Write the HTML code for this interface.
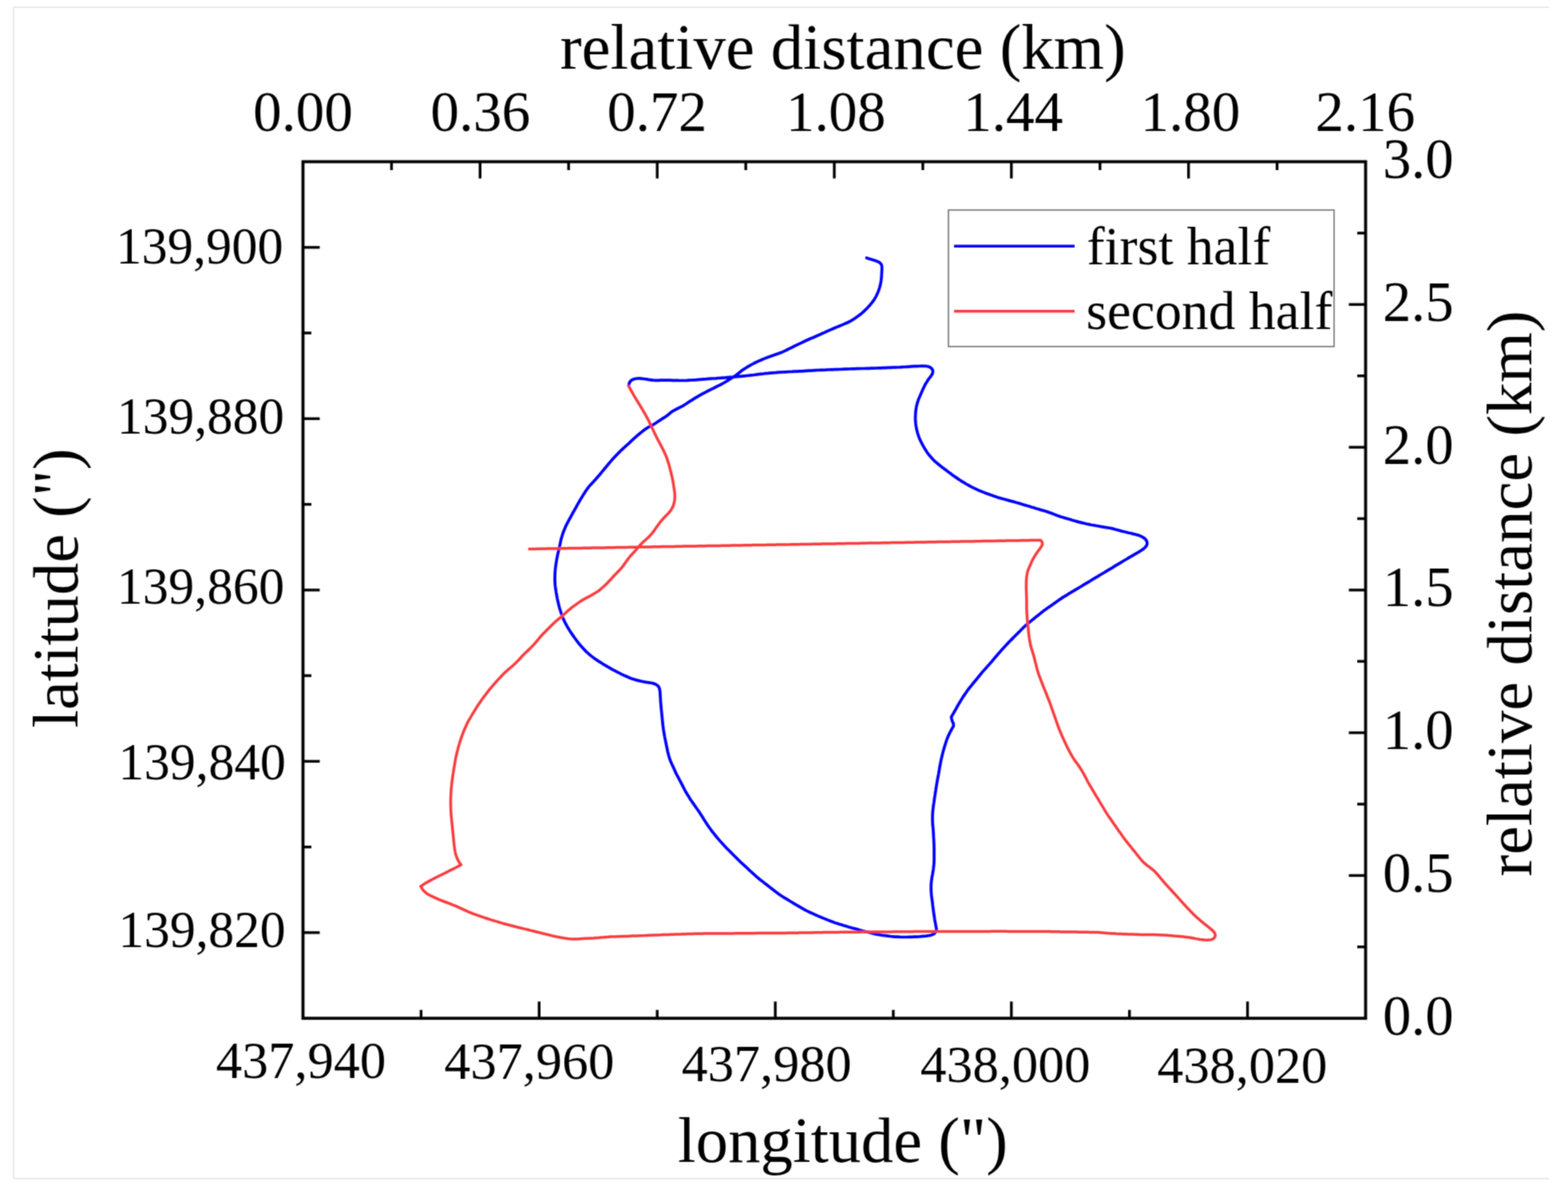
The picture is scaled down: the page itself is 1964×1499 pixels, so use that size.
<!DOCTYPE html>
<html><head><meta charset="utf-8"><title>plot</title>
<style>
html,body{margin:0;padding:0;background:#fff;}
body{width:1964px;height:1499px;overflow:hidden;}
svg{display:block;}
text{font-family:"Liberation Serif","Times New Roman",serif;fill:#000;}
</style></head><body>
<svg width="1964" height="1499" viewBox="0 0 1964 1499">
<defs><filter id="sb" x="0" y="0" width="1964" height="1499" filterUnits="userSpaceOnUse"><feConvolveMatrix order="3" kernelMatrix="1 2 1 2 8 2 1 2 1" divisor="20" edgeMode="duplicate" preserveAlpha="false"/></filter></defs>
<rect x="0" y="0" width="1964" height="1499" fill="#ffffff"/>
<g filter="url(#sb)">
<path d="M17,1476 L17,9 L1940,9 M17,1476 L1940,1476" fill="none" stroke="#e9e9e9" stroke-width="2"/>
<g fill="none" stroke-linejoin="round" stroke-linecap="round">
<polyline points="1085.5,323.0 1088.4,323.9 1091.2,324.8 1094.1,325.7 1096.9,326.6 1099.7,327.7 1102.2,329.1 1103.9,331.1 1104.6,333.6 1104.7,336.5 1104.5,339.5 1104.4,342.5 1104.2,345.5 1104.0,348.5 1103.6,351.5 1103.1,354.4 1102.5,357.3 1101.7,360.2 1100.8,363.1 1099.7,365.9 1098.5,368.6 1097.2,371.3 1095.7,373.9 1094.1,376.4 1092.3,378.8 1090.4,381.2 1088.4,383.4 1086.4,385.6 1084.3,387.7 1082.1,389.8 1079.9,391.9 1077.6,393.8 1075.2,395.6 1072.8,397.3 1070.3,399.0 1067.8,400.6 1065.2,402.1 1062.5,403.5 1059.8,404.7 1057.0,405.9 1054.3,407.1 1051.5,408.2 1048.7,409.4 1045.9,410.5 1043.2,411.7 1040.4,412.9 1037.7,414.1 1034.9,415.3 1032.2,416.6 1029.5,417.8 1026.7,419.1 1024.0,420.3 1021.2,421.5 1018.5,422.7 1015.7,423.8 1013.0,425.0 1010.2,426.3 1007.5,427.5 1004.8,428.8 1002.1,430.1 999.4,431.4 996.7,432.7 994.0,434.0 991.3,435.4 988.6,436.7 985.9,438.0 983.2,439.4 980.5,440.6 977.7,441.7 974.9,442.8 972.1,443.8 969.2,444.8 966.4,445.8 963.6,446.8 960.8,447.8 958.0,448.9 955.2,450.0 952.4,451.2 949.7,452.4 946.9,453.7 944.3,455.0 941.6,456.5 939.0,457.9 936.4,459.4 933.9,461.0 931.3,462.6 928.9,464.3 926.5,466.2 924.2,468.1 921.8,469.9 919.4,471.6 916.8,473.2 914.3,474.8 911.8,476.4 909.2,478.0 906.6,479.5 904.0,481.0 901.3,482.3 898.6,483.7 896.0,485.0 893.3,486.4 890.6,487.7 887.9,489.0 885.2,490.4 882.5,491.8 879.9,493.1 877.3,494.6 874.7,496.1 872.1,497.6 869.5,499.2 866.9,500.8 864.4,502.4 861.9,504.0 859.4,505.7 856.9,507.3 854.3,508.8 851.6,510.2 848.9,511.5 846.3,512.9 843.6,514.3 841.1,515.9 838.8,517.8 836.5,519.7 834.1,521.5 831.6,523.1 829.0,524.7 826.5,526.4 824.0,528.0 821.5,529.7 819.0,531.3 816.4,532.8 813.7,534.2 811.1,535.6 808.6,537.2 806.2,539.0 803.9,540.9 801.5,542.8 799.2,544.7 797.0,546.7 794.7,548.7 792.5,550.7 790.3,552.7 788.1,554.8 785.8,556.8 783.6,558.8 781.4,560.8 779.2,562.9 777.0,565.0 774.9,567.1 772.8,569.2 770.7,571.4 768.7,573.6 766.7,575.8 764.7,578.1 762.8,580.3 760.8,582.7 758.9,585.0 757.0,587.3 755.1,589.6 753.2,591.9 751.3,594.2 749.3,596.5 747.4,598.8 745.4,601.0 743.4,603.3 741.3,605.4 739.3,607.6 737.3,609.9 735.5,612.3 733.8,614.8 732.2,617.3 730.6,619.8 729.0,622.4 727.4,624.9 725.9,627.5 724.4,630.1 722.9,632.7 721.5,635.4 720.0,638.0 718.5,640.6 717.1,643.2 715.6,645.9 714.2,648.5 712.7,651.1 711.3,653.8 709.9,656.4 708.6,659.1 707.4,661.9 706.3,664.6 705.2,667.5 704.3,670.3 703.4,673.2 702.6,676.1 702.0,679.0 701.4,681.9 700.7,684.9 700.1,687.8 699.4,690.7 698.7,693.6 698.1,696.6 697.5,699.5 697.0,702.5 696.5,705.4 696.1,708.4 695.7,711.4 695.4,714.4 695.2,717.4 695.1,720.4 695.0,723.4 695.0,726.4 695.1,729.4 695.3,732.4 695.6,735.3 696.1,738.3 696.5,741.3 697.0,744.2 697.6,747.2 698.1,750.1 698.8,753.1 699.5,756.0 700.2,758.9 701.0,761.8 701.9,764.7 702.8,767.5 703.8,770.3 704.8,773.2 706.0,775.9 707.3,778.6 708.7,781.3 710.1,783.9 711.6,786.5 713.2,789.1 714.8,791.6 716.5,794.1 718.2,796.6 719.9,799.0 721.7,801.4 723.5,803.8 725.3,806.2 727.3,808.5 729.3,810.7 731.3,812.9 733.4,815.1 735.5,817.2 737.8,819.2 740.1,821.1 742.4,822.9 744.8,824.7 747.3,826.4 749.8,828.1 752.4,829.7 754.9,831.3 757.5,832.8 760.1,834.3 762.7,835.8 765.3,837.3 767.9,838.8 770.5,840.2 773.2,841.6 775.9,842.9 778.6,844.3 781.3,845.6 784.0,846.8 786.8,848.0 789.5,849.2 792.4,850.2 795.2,851.1 798.1,851.9 801.0,852.6 803.9,853.3 806.9,853.9 809.8,854.4 812.8,854.8 815.8,855.3 818.7,855.9 821.4,856.9 823.7,858.5 825.4,860.7 826.3,863.4 826.7,866.3 826.9,869.3 827.1,872.3 827.3,875.3 827.4,878.3 827.7,881.3 827.9,884.3 828.2,887.3 828.5,890.3 828.8,893.2 829.1,896.2 829.4,899.2 829.7,902.2 830.0,905.2 830.3,908.2 830.7,911.2 831.1,914.1 831.6,917.1 832.1,920.1 832.6,923.0 833.2,926.0 833.8,928.9 834.4,931.8 835.0,934.8 835.6,937.7 836.2,940.7 836.9,943.6 837.7,946.5 838.5,949.4 839.5,952.2 840.7,954.9 841.9,957.7 843.2,960.4 844.4,963.1 845.6,965.9 846.9,968.6 848.3,971.3 849.7,973.9 851.1,976.6 852.5,979.2 853.9,981.9 855.3,984.5 856.6,987.2 858.0,989.9 859.5,992.5 861.0,995.1 862.6,997.6 864.2,1000.2 865.9,1002.7 867.6,1005.1 869.3,1007.6 871.0,1010.0 872.7,1012.5 874.5,1015.0 876.2,1017.4 877.8,1019.9 879.5,1022.5 881.0,1025.0 882.6,1027.6 884.2,1030.1 885.8,1032.6 887.6,1035.1 889.3,1037.5 891.1,1040.0 892.9,1042.3 894.8,1044.7 896.6,1047.0 898.5,1049.3 900.5,1051.6 902.5,1053.9 904.5,1056.1 906.5,1058.3 908.6,1060.5 910.7,1062.7 912.8,1064.8 914.9,1066.9 917.0,1069.0 919.2,1071.2 921.3,1073.3 923.4,1075.4 925.5,1077.5 927.7,1079.6 929.9,1081.7 932.1,1083.7 934.3,1085.7 936.5,1087.7 938.7,1089.8 941.0,1091.8 943.2,1093.8 945.4,1095.8 947.6,1097.8 949.9,1099.8 952.2,1101.7 954.6,1103.5 957.0,1105.4 959.4,1107.2 961.7,1109.0 964.1,1110.9 966.5,1112.7 968.8,1114.6 971.2,1116.4 973.6,1118.3 976.0,1120.0 978.5,1121.7 981.0,1123.3 983.6,1124.8 986.2,1126.4 988.7,1128.0 991.3,1129.5 993.9,1131.1 996.4,1132.6 999.0,1134.1 1001.6,1135.7 1004.2,1137.2 1006.8,1138.7 1009.4,1140.1 1012.1,1141.4 1014.9,1142.7 1017.6,1143.9 1020.3,1145.2 1023.0,1146.4 1025.8,1147.6 1028.6,1148.8 1031.3,1149.9 1034.1,1151.0 1036.9,1152.1 1039.7,1153.2 1042.5,1154.3 1045.3,1155.4 1048.2,1156.3 1051.0,1157.2 1053.9,1158.1 1056.8,1159.0 1059.7,1159.8 1062.5,1160.7 1065.4,1161.5 1068.3,1162.4 1071.2,1163.1 1074.1,1163.9 1077.0,1164.7 1079.9,1165.5 1082.8,1166.2 1085.7,1167.0 1088.6,1167.7 1091.5,1168.5 1094.4,1169.2 1097.4,1169.9 1100.3,1170.4 1103.3,1170.9 1106.2,1171.3 1109.2,1171.7 1112.2,1172.1 1115.2,1172.5 1118.2,1172.8 1121.1,1173.1 1124.1,1173.2 1127.1,1173.4 1130.1,1173.5 1133.1,1173.5 1136.1,1173.5 1139.1,1173.4 1142.1,1173.3 1145.1,1173.2 1148.1,1173.1 1151.1,1173.0 1154.1,1172.7 1157.1,1172.4 1160.1,1172.1 1163.1,1171.7 1166.0,1171.1 1168.7,1170.1 1170.9,1168.6 1172.3,1166.4 1173.0,1163.7 1172.4,1160.7 1171.9,1157.8 1171.4,1154.8 1170.8,1151.8 1170.4,1148.9 1169.9,1145.9 1169.5,1142.9 1169.1,1139.9 1168.7,1136.9 1168.3,1133.9 1168.0,1130.9 1167.6,1128.0 1167.2,1125.0 1166.8,1122.0 1166.5,1119.0 1166.3,1116.0 1166.2,1113.0 1166.2,1110.0 1166.3,1107.0 1166.6,1104.0 1167.0,1101.0 1167.4,1098.0 1168.0,1095.1 1168.5,1092.1 1169.0,1089.1 1169.4,1086.1 1169.7,1083.1 1169.9,1080.1 1170.0,1077.1 1170.0,1074.1 1170.0,1071.1 1170.0,1068.1 1170.0,1065.1 1170.0,1062.1 1169.9,1059.0 1169.8,1056.0 1169.7,1053.0 1169.5,1050.0 1169.3,1047.0 1169.2,1044.0 1169.0,1041.0 1168.8,1038.0 1168.5,1035.0 1168.2,1032.0 1168.1,1029.0 1168.0,1026.0 1168.0,1023.0 1168.1,1020.0 1168.3,1016.9 1168.6,1013.9 1168.9,1011.0 1169.3,1008.0 1169.8,1005.0 1170.2,1002.0 1170.6,999.0 1171.1,996.0 1171.5,993.1 1172.0,990.1 1172.4,987.1 1172.9,984.1 1173.4,981.2 1173.9,978.2 1174.5,975.2 1175.0,972.3 1175.6,969.3 1176.1,966.3 1176.6,963.4 1177.1,960.4 1177.6,957.4 1178.2,954.5 1178.8,951.5 1179.5,948.6 1180.2,945.7 1180.9,942.7 1181.7,939.8 1182.5,936.9 1183.4,934.0 1184.3,931.2 1185.2,928.3 1186.2,925.5 1187.3,922.7 1188.6,919.9 1189.9,917.2 1191.3,914.6 1192.8,911.9 1194.3,909.3 1194.3,906.6 1193.1,903.8 1192.1,901.0 1191.5,898.0 1193.0,895.4 1194.5,892.8 1196.0,890.2 1197.5,887.6 1198.9,885.0 1200.4,882.3 1202.0,879.8 1203.5,877.2 1205.1,874.6 1206.7,872.1 1208.4,869.6 1210.1,867.2 1211.8,864.7 1213.6,862.3 1215.5,860.0 1217.4,857.6 1219.3,855.3 1221.2,853.0 1223.1,850.7 1225.0,848.3 1226.9,846.0 1228.8,843.7 1230.7,841.4 1232.7,839.1 1234.7,836.9 1236.7,834.6 1238.7,832.4 1240.7,830.1 1242.7,827.9 1244.6,825.6 1246.5,823.3 1248.5,821.0 1250.4,818.7 1252.4,816.5 1254.4,814.2 1256.4,812.0 1258.5,809.8 1260.5,807.6 1262.5,805.4 1264.6,803.2 1266.7,801.1 1268.9,798.9 1271.0,796.8 1273.1,794.7 1275.2,792.6 1277.4,790.5 1279.5,788.3 1281.6,786.2 1283.8,784.2 1286.0,782.1 1288.3,780.2 1290.6,778.3 1293.0,776.4 1295.3,774.5 1297.6,772.6 1300.0,770.8 1302.3,768.9 1304.7,767.0 1307.0,765.1 1309.4,763.4 1311.9,761.6 1314.3,759.9 1316.8,758.2 1319.3,756.5 1321.7,754.7 1324.2,753.0 1326.6,751.3 1329.1,749.6 1331.6,747.9 1334.2,746.3 1336.7,744.8 1339.3,743.2 1341.9,741.7 1344.5,740.1 1347.0,738.6 1349.6,737.1 1352.2,735.5 1354.8,734.0 1357.3,732.4 1359.9,730.9 1362.5,729.3 1365.1,727.8 1367.6,726.2 1370.2,724.7 1372.8,723.1 1375.4,721.6 1377.9,720.0 1380.5,718.5 1383.1,717.0 1385.7,715.4 1388.2,713.9 1390.8,712.3 1393.4,710.8 1396.0,709.2 1398.5,707.7 1401.1,706.1 1403.7,704.6 1406.3,703.0 1408.8,701.5 1411.4,700.0 1414.0,698.4 1416.6,696.9 1419.2,695.3 1421.8,693.8 1424.4,692.3 1427.0,690.9 1429.5,689.3 1432.0,687.6 1434.2,685.7 1436.0,683.5 1436.9,680.9 1436.6,678.3 1435.3,675.9 1433.2,673.9 1430.7,672.4 1428.1,671.1 1425.2,670.1 1422.3,669.3 1419.4,668.6 1416.5,667.8 1413.6,667.2 1410.7,666.5 1407.7,665.8 1404.8,665.1 1401.9,664.3 1399.0,663.5 1396.2,662.7 1393.3,661.9 1390.3,661.3 1387.4,660.8 1384.4,660.4 1381.4,659.9 1378.5,659.4 1375.5,658.8 1372.6,658.3 1369.6,657.7 1366.7,657.2 1363.7,656.6 1360.8,656.0 1357.8,655.3 1354.9,654.6 1352.0,653.9 1349.1,653.1 1346.2,652.3 1343.3,651.5 1340.5,650.6 1337.6,649.7 1334.7,648.9 1331.8,648.0 1329.0,647.2 1326.1,646.2 1323.3,645.2 1320.5,644.1 1317.7,643.0 1314.9,642.0 1312.0,641.0 1309.2,640.1 1306.3,639.2 1303.4,638.4 1300.5,637.5 1297.7,636.7 1294.8,635.8 1291.9,635.0 1289.0,634.1 1286.2,633.2 1283.3,632.4 1280.4,631.5 1277.5,630.6 1274.6,629.8 1271.8,629.0 1268.9,628.1 1266.0,627.4 1263.1,626.6 1260.2,625.8 1257.3,625.0 1254.4,624.2 1251.5,623.4 1248.6,622.5 1245.8,621.6 1242.9,620.6 1240.1,619.6 1237.3,618.6 1234.4,617.5 1231.7,616.4 1228.9,615.3 1226.1,614.2 1223.4,612.9 1220.7,611.6 1218.0,610.3 1215.3,608.9 1212.7,607.5 1210.1,606.0 1207.5,604.4 1204.9,602.9 1202.4,601.3 1199.9,599.6 1197.4,597.9 1195.0,596.2 1192.5,594.4 1190.1,592.6 1187.7,590.9 1185.3,589.0 1182.9,587.2 1180.5,585.4 1178.1,583.6 1175.8,581.7 1173.5,579.8 1171.2,577.8 1169.0,575.8 1167.0,573.6 1165.0,571.3 1163.1,569.0 1161.3,566.6 1159.7,564.1 1158.1,561.5 1156.6,558.9 1155.2,556.3 1153.8,553.6 1152.5,550.9 1151.3,548.2 1150.3,545.4 1149.4,542.5 1148.6,539.6 1147.9,536.7 1147.4,533.8 1147.0,530.8 1146.7,527.8 1146.5,524.8 1146.6,521.8 1146.7,518.8 1146.9,515.8 1147.3,512.8 1147.7,509.9 1148.4,507.0 1149.2,504.1 1150.1,501.2 1151.2,498.4 1152.4,495.7 1153.6,492.9 1154.8,490.2 1156.0,487.4 1157.3,484.7 1158.6,482.0 1160.1,479.4 1161.7,476.9 1163.4,474.4 1165.2,472.1 1167.0,469.7 1168.2,467.1 1168.5,464.5 1167.5,462.1 1165.6,460.3 1163.0,459.1 1160.2,458.5 1157.2,458.4 1154.2,458.4 1151.2,458.5 1148.2,458.6 1145.2,458.7 1142.2,458.9 1139.2,459.1 1136.2,459.3 1133.2,459.5 1130.2,459.7 1127.2,459.9 1124.2,460.0 1121.2,460.1 1118.2,460.2 1115.2,460.3 1112.2,460.4 1109.2,460.6 1106.2,460.7 1103.2,460.8 1100.2,460.9 1097.2,461.0 1094.2,461.1 1091.2,461.2 1088.2,461.3 1085.2,461.4 1082.2,461.5 1079.2,461.5 1076.2,461.6 1073.2,461.7 1070.2,461.8 1067.2,461.9 1064.2,462.0 1061.2,462.1 1058.2,462.2 1055.2,462.3 1052.2,462.5 1049.2,462.6 1046.2,462.7 1043.2,462.8 1040.2,462.9 1037.2,463.0 1034.2,463.2 1031.2,463.3 1028.2,463.4 1025.2,463.5 1022.2,463.7 1019.2,463.9 1016.2,464.1 1013.2,464.2 1010.2,464.4 1007.2,464.6 1004.2,464.8 1001.2,464.9 998.2,465.1 995.2,465.2 992.2,465.4 989.2,465.5 986.2,465.7 983.2,465.8 980.2,466.0 977.2,466.2 974.2,466.4 971.2,466.7 968.2,466.9 965.2,467.1 962.2,467.4 959.2,467.6 956.2,468.0 953.3,468.3 950.3,468.7 947.3,469.1 944.3,469.5 941.3,469.8 938.4,470.2 935.4,470.5 932.4,470.8 929.4,471.1 926.4,471.4 923.4,471.7 920.4,471.9 917.4,472.2 914.4,472.4 911.4,472.6 908.5,472.9 905.5,473.1 902.5,473.3 899.5,473.5 896.5,473.8 893.5,474.0 890.5,474.2 887.5,474.4 884.5,474.7 881.5,474.9 878.5,475.1 875.5,475.3 872.5,475.6 869.5,475.8 866.5,476.0 863.5,476.2 860.5,476.4 857.5,476.5 854.5,476.5 851.5,476.5 848.5,476.4 845.5,476.4 842.5,476.3 839.5,476.2 836.5,476.2 833.5,476.1 830.5,476.1 827.5,476.1 824.5,476.3 821.5,476.3 818.5,476.2 815.6,475.8 812.6,475.4 809.6,474.9 806.6,474.5 803.7,474.1 800.7,473.9 797.7,474.0 794.8,474.5 792.1,475.5 789.9,477.1 788.3,479.4 787.6,482.1 787.5,483.5" stroke="#0000ff" stroke-width="3.7"/>
<polyline points="787.5,483.5 788.9,486.1 790.4,488.8 791.9,491.4 793.3,494.0 794.8,496.6 796.4,499.2 797.9,501.8 799.5,504.3 801.1,506.9 802.6,509.5 804.2,512.0 805.7,514.6 807.2,517.2 808.7,519.8 810.2,522.5 811.6,525.1 812.9,527.8 814.2,530.5 815.6,533.2 816.9,535.9 818.1,538.6 819.4,541.4 820.7,544.1 822.0,546.8 823.4,549.5 824.8,552.1 826.2,554.8 827.6,557.4 829.0,560.1 830.4,562.8 831.7,565.4 833.0,568.2 834.2,570.9 835.2,573.7 836.2,576.6 837.1,579.4 838.0,582.3 838.8,585.2 839.5,588.1 840.3,591.0 841.0,594.0 841.7,596.9 842.3,599.8 842.9,602.8 843.4,605.7 843.8,608.7 844.3,611.7 844.7,614.6 845.1,617.6 845.3,620.6 845.2,623.6 845.0,626.6 844.4,629.5 843.6,632.4 842.5,635.1 841.1,637.7 839.4,640.2 837.4,642.5 835.4,644.6 833.3,646.8 831.2,649.0 829.2,651.2 827.3,653.5 825.4,655.9 823.7,658.3 821.9,660.8 820.2,663.2 818.5,665.7 816.6,668.1 814.6,670.3 812.5,672.4 810.4,674.5 808.2,676.5 805.9,678.5 803.7,680.6 801.7,682.8 799.7,685.0 797.8,687.3 795.8,689.6 793.8,691.8 791.7,694.0 789.7,696.2 787.8,698.5 786.0,700.9 784.2,703.4 782.5,705.8 780.8,708.3 778.9,710.7 777.0,712.9 774.9,715.1 772.8,717.2 770.7,719.4 768.6,721.5 766.6,723.8 764.6,726.0 762.5,728.2 760.4,730.4 758.3,732.4 756.1,734.5 753.8,736.5 751.6,738.5 749.2,740.3 746.7,741.9 744.1,743.5 741.5,745.0 738.9,746.5 736.3,747.9 733.6,749.2 730.9,750.7 728.4,752.2 725.9,753.9 723.4,755.6 721.0,757.4 718.5,759.1 716.1,760.9 713.8,762.8 711.5,764.7 709.3,766.7 707.1,768.8 704.9,770.9 702.6,772.8 700.3,774.7 697.9,776.6 695.7,778.5 693.5,780.6 691.3,782.7 689.2,784.8 687.1,786.9 684.9,789.1 682.8,791.2 680.7,793.3 678.6,795.5 676.6,797.7 674.7,800.0 672.8,802.4 670.9,804.7 668.9,806.9 666.9,809.1 664.7,811.2 662.6,813.4 660.4,815.4 658.2,817.5 656.1,819.6 654.0,821.7 652.0,824.0 650.0,826.2 647.9,828.3 645.7,830.4 643.5,832.5 641.3,834.5 639.0,836.5 636.8,838.4 634.5,840.4 632.2,842.4 630.1,844.5 628.0,846.7 626.0,848.9 623.9,851.1 621.9,853.3 619.9,855.6 617.9,857.8 616.0,860.1 614.0,862.4 612.2,864.7 610.3,867.1 608.5,869.5 606.7,871.9 604.9,874.3 603.1,876.7 601.4,879.2 599.7,881.7 598.0,884.2 596.4,886.7 594.8,889.3 593.3,891.8 591.7,894.4 590.2,897.0 588.7,899.6 587.1,902.2 585.7,904.8 584.4,907.5 583.2,910.3 581.9,913.0 580.8,915.8 579.7,918.6 578.7,921.4 577.7,924.2 576.7,927.1 575.8,930.0 575.0,932.8 574.1,935.7 573.4,938.6 572.6,941.5 571.9,944.5 571.2,947.4 570.6,950.3 570.1,953.3 569.6,956.3 569.1,959.2 568.6,962.2 568.1,965.2 567.7,968.1 567.2,971.1 566.8,974.1 566.4,977.0 566.0,980.0 565.7,983.0 565.4,986.0 565.1,989.0 564.9,992.0 564.8,995.0 564.6,998.0 564.5,1001.0 564.5,1004.0 564.5,1007.0 564.6,1010.0 564.7,1013.0 564.8,1016.0 565.0,1019.0 565.2,1022.0 565.5,1025.0 565.8,1028.0 566.1,1031.0 566.4,1034.0 566.7,1037.0 567.0,1040.0 567.3,1043.0 567.6,1046.0 567.9,1048.9 568.2,1051.9 568.5,1054.9 568.8,1057.9 569.2,1060.9 569.6,1063.9 570.1,1066.8 570.8,1069.7 571.7,1072.6 572.8,1075.4 574.2,1078.1 575.7,1080.6 577.5,1083.0 574.8,1084.4 572.2,1085.8 569.5,1087.2 566.8,1088.6 564.1,1089.9 561.4,1091.3 558.7,1092.6 556.0,1094.0 553.3,1095.3 550.6,1096.7 547.9,1098.0 545.2,1099.4 542.5,1100.8 539.9,1102.1 537.2,1103.6 534.6,1105.1 532.0,1106.6 529.5,1108.3 527.0,1110.0 528.5,1112.6 530.2,1115.0 532.3,1117.1 534.6,1119.0 537.1,1120.5 539.8,1121.9 542.5,1123.2 545.2,1124.4 548.0,1125.6 550.8,1126.8 553.5,1127.9 556.3,1129.0 559.1,1130.0 561.9,1131.1 564.7,1132.2 567.5,1133.3 570.3,1134.4 573.1,1135.6 575.8,1136.9 578.5,1138.1 581.3,1139.3 584.0,1140.6 586.7,1141.8 589.5,1143.0 592.3,1144.1 595.1,1145.1 597.9,1146.1 600.8,1147.1 603.6,1148.1 606.4,1149.1 609.3,1150.0 612.1,1151.0 615.0,1151.9 617.9,1152.7 620.8,1153.6 623.6,1154.4 626.5,1155.3 629.4,1156.2 632.3,1157.0 635.2,1157.7 638.1,1158.5 641.0,1159.2 643.9,1160.0 646.8,1160.7 649.7,1161.5 652.6,1162.2 655.5,1162.9 658.5,1163.6 661.4,1164.3 664.3,1165.1 667.2,1165.8 670.1,1166.5 673.0,1167.2 675.9,1167.9 678.9,1168.7 681.8,1169.4 684.7,1170.1 687.6,1170.8 690.5,1171.6 693.4,1172.2 696.4,1172.9 699.3,1173.5 702.2,1174.1 705.2,1174.6 708.1,1175.1 711.1,1175.5 714.1,1175.8 717.1,1176.0 720.1,1176.0 723.1,1175.9 726.1,1175.7 729.1,1175.5 732.1,1175.3 735.1,1175.2 738.1,1175.0 741.1,1174.9 744.1,1174.7 747.0,1174.4 750.0,1174.2 753.0,1173.9 756.0,1173.7 759.0,1173.4 762.0,1173.3 765.0,1173.1 768.0,1173.0 771.0,1172.9 774.0,1172.8 777.0,1172.7 780.0,1172.6 783.0,1172.5 786.0,1172.4 789.0,1172.2 792.0,1172.1 795.0,1172.0 798.0,1171.9 801.0,1171.8 804.0,1171.7 807.0,1171.6 810.0,1171.4 813.0,1171.3 816.0,1171.2 819.0,1171.1 822.0,1171.0 825.0,1170.9 828.0,1170.7 831.0,1170.6 834.0,1170.5 837.0,1170.4 840.0,1170.3 843.0,1170.2 846.0,1170.1 849.0,1170.0 852.0,1169.9 855.0,1169.8 858.0,1169.7 861.0,1169.6 864.0,1169.5 867.0,1169.4 870.0,1169.3 873.0,1169.2 876.0,1169.2 879.0,1169.2 882.0,1169.1 885.0,1169.1 888.0,1169.1 891.0,1169.1 894.0,1169.0 897.0,1169.0 900.0,1169.0 903.0,1169.0 906.0,1169.0 909.0,1168.9 912.0,1168.9 915.0,1168.9 918.0,1168.9 921.0,1168.8 924.0,1168.8 927.0,1168.8 930.0,1168.8 933.0,1168.8 936.0,1168.7 939.0,1168.7 942.0,1168.7 945.0,1168.7 948.0,1168.6 951.0,1168.6 954.0,1168.6 957.0,1168.6 960.0,1168.5 963.0,1168.5 966.0,1168.5 969.1,1168.5 972.1,1168.5 975.1,1168.4 978.1,1168.4 981.1,1168.4 984.1,1168.4 987.1,1168.3 990.1,1168.3 993.1,1168.3 996.1,1168.2 999.1,1168.2 1002.1,1168.1 1005.1,1168.1 1008.1,1168.0 1011.1,1168.0 1014.1,1167.9 1017.1,1167.9 1020.1,1167.8 1023.1,1167.8 1026.1,1167.7 1029.1,1167.7 1032.1,1167.6 1035.1,1167.6 1038.1,1167.5 1041.1,1167.5 1044.1,1167.4 1047.1,1167.4 1050.1,1167.4 1053.1,1167.3 1056.1,1167.3 1059.1,1167.3 1062.1,1167.3 1065.1,1167.3 1068.1,1167.2 1071.1,1167.2 1074.1,1167.2 1077.1,1167.2 1080.1,1167.1 1083.1,1167.1 1086.1,1167.1 1089.1,1167.1 1092.1,1167.1 1095.1,1167.0 1098.1,1167.0 1101.1,1167.0 1104.1,1167.0 1107.1,1166.9 1110.1,1166.9 1113.1,1166.9 1116.1,1166.9 1119.1,1166.8 1122.1,1166.8 1125.1,1166.8 1128.1,1166.8 1131.1,1166.8 1134.1,1166.7 1137.1,1166.7 1140.1,1166.7 1143.1,1166.7 1146.1,1166.6 1149.1,1166.6 1152.1,1166.6 1155.1,1166.6 1158.1,1166.6 1161.1,1166.6 1164.2,1166.6 1167.2,1166.6 1170.2,1166.6 1173.2,1166.6 1176.2,1166.6 1179.2,1166.6 1182.2,1166.6 1185.2,1166.6 1188.2,1166.6 1191.2,1166.6 1194.2,1166.6 1197.2,1166.6 1200.2,1166.6 1203.2,1166.5 1206.2,1166.5 1209.2,1166.5 1212.2,1166.5 1215.2,1166.5 1218.2,1166.5 1221.2,1166.4 1224.2,1166.4 1227.2,1166.4 1230.2,1166.4 1233.2,1166.4 1236.2,1166.4 1239.2,1166.4 1242.2,1166.3 1245.2,1166.3 1248.2,1166.3 1251.2,1166.3 1254.2,1166.3 1257.2,1166.3 1260.2,1166.3 1263.2,1166.4 1266.2,1166.4 1269.2,1166.4 1272.2,1166.4 1275.2,1166.4 1278.2,1166.4 1281.2,1166.4 1284.2,1166.5 1287.2,1166.5 1290.2,1166.5 1293.2,1166.5 1296.2,1166.5 1299.2,1166.5 1302.2,1166.6 1305.2,1166.6 1308.2,1166.6 1311.2,1166.6 1314.2,1166.6 1317.2,1166.7 1320.2,1166.7 1323.2,1166.8 1326.2,1166.8 1329.2,1166.9 1332.2,1166.9 1335.2,1166.9 1338.2,1167.0 1341.2,1167.0 1344.2,1167.1 1347.3,1167.1 1350.3,1167.2 1353.3,1167.2 1356.3,1167.2 1359.3,1167.3 1362.3,1167.3 1365.3,1167.4 1368.3,1167.4 1371.3,1167.5 1374.3,1167.6 1377.3,1167.8 1380.2,1168.0 1383.2,1168.2 1386.2,1168.5 1389.2,1168.7 1392.2,1168.9 1395.2,1169.1 1398.2,1169.3 1401.2,1169.4 1404.2,1169.5 1407.2,1169.7 1410.2,1169.8 1413.2,1169.9 1416.2,1170.0 1419.2,1170.1 1422.2,1170.2 1425.2,1170.3 1428.2,1170.4 1431.2,1170.5 1434.2,1170.5 1437.2,1170.6 1440.2,1170.6 1443.2,1170.6 1446.2,1170.6 1449.2,1170.7 1452.2,1170.7 1455.2,1170.9 1458.2,1171.1 1461.2,1171.3 1464.2,1171.5 1467.2,1171.7 1470.2,1172.0 1473.2,1172.2 1476.2,1172.4 1479.2,1172.7 1482.1,1173.0 1485.1,1173.4 1488.1,1173.8 1491.1,1174.3 1494.0,1174.8 1497.0,1175.4 1499.9,1175.9 1502.9,1176.4 1505.8,1176.7 1508.8,1177.1 1511.8,1177.2 1514.8,1177.1 1517.6,1176.6 1520.1,1175.4 1521.8,1173.4 1522.2,1170.9 1521.4,1168.4 1519.7,1166.1 1517.5,1164.1 1515.2,1162.2 1512.9,1160.3 1510.5,1158.4 1508.2,1156.6 1505.8,1154.7 1503.5,1152.8 1501.3,1150.8 1499.0,1148.8 1496.8,1146.7 1494.7,1144.7 1492.6,1142.5 1490.5,1140.4 1488.4,1138.2 1486.3,1136.0 1484.3,1133.8 1482.3,1131.6 1480.3,1129.3 1478.3,1127.1 1476.3,1124.9 1474.3,1122.7 1472.2,1120.4 1470.2,1118.2 1468.2,1116.0 1466.2,1113.8 1464.1,1111.6 1462.1,1109.4 1460.1,1107.1 1458.1,1104.9 1456.2,1102.6 1454.2,1100.3 1452.3,1098.0 1450.3,1095.7 1448.4,1093.5 1446.3,1091.3 1444.1,1089.3 1441.8,1087.4 1439.4,1085.6 1437.0,1083.8 1434.6,1081.9 1432.4,1080.0 1430.3,1077.8 1428.4,1075.5 1426.5,1073.2 1424.7,1070.8 1422.8,1068.5 1420.9,1066.1 1419.0,1063.8 1417.2,1061.5 1415.3,1059.1 1413.4,1056.8 1411.5,1054.4 1409.7,1052.1 1407.9,1049.7 1406.1,1047.3 1404.4,1044.8 1402.6,1042.3 1400.9,1039.9 1399.2,1037.4 1397.5,1035.0 1395.8,1032.5 1394.0,1030.1 1392.3,1027.6 1390.6,1025.1 1388.9,1022.7 1387.2,1020.2 1385.6,1017.6 1384.0,1015.1 1382.5,1012.5 1381.0,1009.9 1379.4,1007.4 1377.9,1004.8 1376.3,1002.2 1374.8,999.6 1373.2,997.1 1371.7,994.5 1370.1,991.9 1368.6,989.3 1367.1,986.8 1365.5,984.2 1364.0,981.6 1362.5,979.0 1361.2,976.3 1359.8,973.6 1358.4,971.0 1357.0,968.4 1355.5,965.8 1353.9,963.2 1352.3,960.7 1350.6,958.2 1348.8,955.8 1347.0,953.4 1345.3,950.9 1343.7,948.4 1342.2,945.8 1340.7,943.2 1339.3,940.5 1337.9,937.9 1336.6,935.2 1335.3,932.5 1334.0,929.8 1332.7,927.1 1331.5,924.3 1330.2,921.6 1329.1,918.8 1327.9,916.0 1326.8,913.3 1325.7,910.5 1324.7,907.6 1323.7,904.8 1322.7,902.0 1321.7,899.1 1320.7,896.3 1319.7,893.5 1318.7,890.7 1317.7,887.8 1316.7,885.0 1315.7,882.2 1314.7,879.3 1313.6,876.5 1312.5,873.8 1311.4,871.0 1310.3,868.2 1309.2,865.4 1308.0,862.6 1306.9,859.8 1305.8,857.0 1304.7,854.2 1303.6,851.4 1302.6,848.6 1301.5,845.8 1300.6,843.0 1299.6,840.1 1298.8,837.2 1298.1,834.3 1297.4,831.4 1296.6,828.5 1295.9,825.6 1295.2,822.7 1294.4,819.8 1293.5,816.9 1292.6,814.1 1291.7,811.2 1290.9,808.3 1290.3,805.4 1289.8,802.4 1289.3,799.5 1288.9,796.5 1288.5,793.5 1288.2,790.5 1287.9,787.5 1287.6,784.6 1287.3,781.6 1287.0,778.6 1286.7,775.6 1286.5,772.6 1286.3,769.6 1286.1,766.6 1286.0,763.6 1285.9,760.6 1285.9,757.6 1285.9,754.6 1285.9,751.6 1285.8,748.6 1285.7,745.6 1285.6,742.6 1285.5,739.6 1285.4,736.6 1285.4,733.6 1285.4,730.6 1285.5,727.6 1285.7,724.6 1286.0,721.6 1286.5,718.7 1287.1,715.8 1288.1,713.0 1289.3,710.2 1290.5,707.5 1291.7,704.7 1292.9,702.0 1294.3,699.3 1295.8,696.8 1297.4,694.2 1299.1,691.7 1300.9,689.3 1302.6,686.9 1304.3,684.4 1305.7,681.8 1305.4,679.1 1303.5,676.4 1300.5,676.5 1297.5,676.5 1294.5,676.6 1291.5,676.6 1288.5,676.7 1285.5,676.7 1282.5,676.8 1279.5,676.8 1276.5,676.9 1273.5,676.9 1270.5,677.0 1267.5,677.0 1264.5,677.1 1261.5,677.1 1258.5,677.2 1255.5,677.2 1252.5,677.3 1249.5,677.3 1246.5,677.4 1243.5,677.4 1240.5,677.5 1237.5,677.5 1234.5,677.6 1231.5,677.6 1228.5,677.7 1225.5,677.8 1222.5,677.8 1219.5,677.9 1216.5,677.9 1213.5,678.0 1210.5,678.0 1207.5,678.1 1204.5,678.1 1201.5,678.2 1198.5,678.2 1195.5,678.3 1192.5,678.3 1189.5,678.4 1186.5,678.4 1183.5,678.5 1180.5,678.5 1177.5,678.6 1174.5,678.6 1171.5,678.7 1168.5,678.7 1165.5,678.8 1162.5,678.8 1159.5,678.9 1156.5,678.9 1153.5,679.0 1150.5,679.1 1147.5,679.1 1144.5,679.2 1141.5,679.2 1138.5,679.3 1135.5,679.3 1132.5,679.4 1129.5,679.4 1126.5,679.5 1123.5,679.5 1120.5,679.6 1117.5,679.6 1114.5,679.7 1111.5,679.7 1108.5,679.8 1105.5,679.8 1102.5,679.9 1099.5,679.9 1096.5,680.0 1093.5,680.0 1090.5,680.1 1087.5,680.1 1084.5,680.2 1081.5,680.2 1078.5,680.3 1075.5,680.4 1072.5,680.4 1069.5,680.5 1066.5,680.5 1063.5,680.6 1060.5,680.6 1057.5,680.7 1054.5,680.7 1051.5,680.8 1048.5,680.8 1045.5,680.9 1042.5,680.9 1039.5,681.0 1036.5,681.0 1033.5,681.1 1030.5,681.1 1027.5,681.2 1024.5,681.2 1021.5,681.3 1018.5,681.3 1015.5,681.4 1012.5,681.4 1009.5,681.5 1006.5,681.5 1003.5,681.6 1000.5,681.7 997.5,681.7 994.5,681.8 991.5,681.8 988.5,681.9 985.5,681.9 982.5,682.0 979.5,682.0 976.5,682.1 973.5,682.1 970.5,682.2 967.5,682.2 964.5,682.3 961.5,682.3 958.5,682.4 955.5,682.4 952.5,682.5 949.5,682.5 946.5,682.6 943.5,682.6 940.5,682.7 937.5,682.7 934.5,682.8 931.5,682.8 928.5,682.9 925.5,683.0 922.5,683.0 919.5,683.1 916.5,683.1 913.5,683.2 910.5,683.2 907.5,683.3 904.5,683.3 901.5,683.4 898.5,683.4 895.5,683.5 892.5,683.5 889.5,683.6 886.5,683.6 883.5,683.7 880.5,683.7 877.5,683.8 874.5,683.8 871.5,683.9 868.5,683.9 865.5,684.0 862.5,684.0 859.5,684.1 856.5,684.1 853.5,684.2 850.5,684.3 847.5,684.3 844.5,684.4 841.5,684.4 838.5,684.5 835.5,684.5 832.5,684.6 829.5,684.6 826.5,684.7 823.5,684.7 820.5,684.8 817.5,684.8 814.5,684.9 811.5,684.9 808.5,685.0 805.5,685.0 802.5,685.1 799.5,685.1 796.5,685.2 793.5,685.2 790.5,685.3 787.5,685.3 784.5,685.4 781.5,685.4 778.5,685.5 775.5,685.6 772.5,685.6 769.5,685.7 766.5,685.7 763.5,685.8 760.5,685.8 757.5,685.9 754.5,685.9 751.5,686.0 748.5,686.0 745.5,686.1 742.5,686.1 739.5,686.2 736.5,686.2 733.5,686.3 730.5,686.3 727.5,686.4 724.5,686.4 721.5,686.5 718.5,686.5 715.5,686.6 712.5,686.6 709.5,686.7 706.5,686.7 703.5,686.8 700.5,686.9 697.5,686.9 694.5,687.0 691.5,687.0 688.5,687.1 685.5,687.1 682.5,687.2 679.5,687.2 676.5,687.3 673.5,687.3 670.5,687.4 667.5,687.4 664.5,687.5 663.0,687.5" stroke="#f93b3e" stroke-width="3.5"/>
</g>
<rect x="379.5" y="202.5" width="1331.0" height="1072.7" fill="none" stroke="#000" stroke-width="3.8"/>
<g stroke="#000" stroke-width="3.4"><line x1="527.4" y1="1275.2" x2="527.4" y2="1264.7"/><line x1="675.3" y1="1275.2" x2="675.3" y2="1254.2"/><line x1="823.2" y1="1275.2" x2="823.2" y2="1264.7"/><line x1="971.1" y1="1275.2" x2="971.1" y2="1254.2"/><line x1="1118.9" y1="1275.2" x2="1118.9" y2="1264.7"/><line x1="1266.8" y1="1275.2" x2="1266.8" y2="1254.2"/><line x1="1414.7" y1="1275.2" x2="1414.7" y2="1264.7"/><line x1="1562.6" y1="1275.2" x2="1562.6" y2="1254.2"/><line x1="490.4" y1="202.5" x2="490.4" y2="213.0"/><line x1="601.3" y1="202.5" x2="601.3" y2="223.5"/><line x1="712.2" y1="202.5" x2="712.2" y2="213.0"/><line x1="823.2" y1="202.5" x2="823.2" y2="223.5"/><line x1="934.1" y1="202.5" x2="934.1" y2="213.0"/><line x1="1045.0" y1="202.5" x2="1045.0" y2="223.5"/><line x1="1155.9" y1="202.5" x2="1155.9" y2="213.0"/><line x1="1266.8" y1="202.5" x2="1266.8" y2="223.5"/><line x1="1377.8" y1="202.5" x2="1377.8" y2="213.0"/><line x1="1488.7" y1="202.5" x2="1488.7" y2="223.5"/><line x1="1599.6" y1="202.5" x2="1599.6" y2="213.0"/><line x1="379.5" y1="1167.9" x2="400.5" y2="1167.9"/><line x1="379.5" y1="1060.7" x2="390.0" y2="1060.7"/><line x1="379.5" y1="953.4" x2="400.5" y2="953.4"/><line x1="379.5" y1="846.1" x2="390.0" y2="846.1"/><line x1="379.5" y1="738.9" x2="400.5" y2="738.9"/><line x1="379.5" y1="631.6" x2="390.0" y2="631.6"/><line x1="379.5" y1="524.3" x2="400.5" y2="524.3"/><line x1="379.5" y1="417.0" x2="390.0" y2="417.0"/><line x1="379.5" y1="309.8" x2="400.5" y2="309.8"/><line x1="1710.5" y1="1185.8" x2="1700.0" y2="1185.8"/><line x1="1710.5" y1="1096.4" x2="1689.5" y2="1096.4"/><line x1="1710.5" y1="1007.0" x2="1700.0" y2="1007.0"/><line x1="1710.5" y1="917.6" x2="1689.5" y2="917.6"/><line x1="1710.5" y1="828.2" x2="1700.0" y2="828.2"/><line x1="1710.5" y1="738.9" x2="1689.5" y2="738.9"/><line x1="1710.5" y1="649.5" x2="1700.0" y2="649.5"/><line x1="1710.5" y1="560.1" x2="1689.5" y2="560.1"/><line x1="1710.5" y1="470.7" x2="1700.0" y2="470.7"/><line x1="1710.5" y1="381.3" x2="1689.5" y2="381.3"/><line x1="1710.5" y1="291.9" x2="1700.0" y2="291.9"/></g>
<rect x="1188" y="263" width="483" height="171" fill="none" stroke="#6e6e6e" stroke-width="1.6"/>
<line x1="1195" y1="308.3" x2="1346" y2="308.3" stroke="#0000ff" stroke-width="3.5"/>
<line x1="1195" y1="389.8" x2="1346" y2="389.8" stroke="#f93b3e" stroke-width="3.5"/>
<text x="701.4" y="86.0" font-size="81.3" text-anchor="start">relative distance (km)</text>
<text x="379.5" y="164.0" font-size="71.5" text-anchor="middle">0.00</text>
<text x="601.7" y="164.0" font-size="71.5" text-anchor="middle">0.36</text>
<text x="823.0" y="164.0" font-size="71.5" text-anchor="middle">0.72</text>
<text x="1047.0" y="164.0" font-size="71.5" text-anchor="middle">1.08</text>
<text x="1269.0" y="164.0" font-size="71.5" text-anchor="middle">1.44</text>
<text x="1491.0" y="164.0" font-size="71.5" text-anchor="middle">1.80</text>
<text x="1710.0" y="164.0" font-size="71.5" text-anchor="middle">2.16</text>
<text x="1732.0" y="1295.6" font-size="71.0" text-anchor="start">0.0</text>
<text x="1732.0" y="1116.8" font-size="71.0" text-anchor="start">0.5</text>
<text x="1732.0" y="938.0" font-size="71.0" text-anchor="start">1.0</text>
<text x="1732.0" y="759.2" font-size="71.0" text-anchor="start">1.5</text>
<text x="1732.0" y="580.5" font-size="71.0" text-anchor="start">2.0</text>
<text x="1732.0" y="401.7" font-size="71.0" text-anchor="start">2.5</text>
<text x="1732.0" y="222.9" font-size="71.0" text-anchor="start">3.0</text>
<text x="354.8" y="330.0" font-size="64.5" text-anchor="end">139,900</text>
<text x="356.0" y="543.0" font-size="64.5" text-anchor="end">139,880</text>
<text x="356.2" y="756.2" font-size="64.5" text-anchor="end">139,860</text>
<text x="357.9" y="975.7" font-size="64.5" text-anchor="end">139,840</text>
<text x="357.8" y="1186.0" font-size="64.5" text-anchor="end">139,820</text>
<text x="377.0" y="1350.2" font-size="65.5" text-anchor="middle">437,940</text>
<text x="663.0" y="1351.2" font-size="65.5" text-anchor="middle">437,960</text>
<text x="960.3" y="1354.0" font-size="65.5" text-anchor="middle">437,980</text>
<text x="1259.3" y="1355.4" font-size="65.5" text-anchor="middle">438,000</text>
<text x="1556.0" y="1356.2" font-size="65.5" text-anchor="middle">438,020</text>
<text x="849.0" y="1454.5" font-size="81.0" text-anchor="start">longitude (&quot;)</text>
<text transform="translate(97.2,911.6) rotate(-90)" font-size="81">latitude (&quot;)</text>
<text transform="translate(1917.8,1097.6) rotate(-90)" font-size="81.3">relative distance (km)</text>
<text x="1361.2" y="330.8" font-size="67.3" text-anchor="start">first half</text>
<text x="1360.5" y="411.5" font-size="67.3" text-anchor="start">second half</text>
</g>
</svg>
</body></html>
